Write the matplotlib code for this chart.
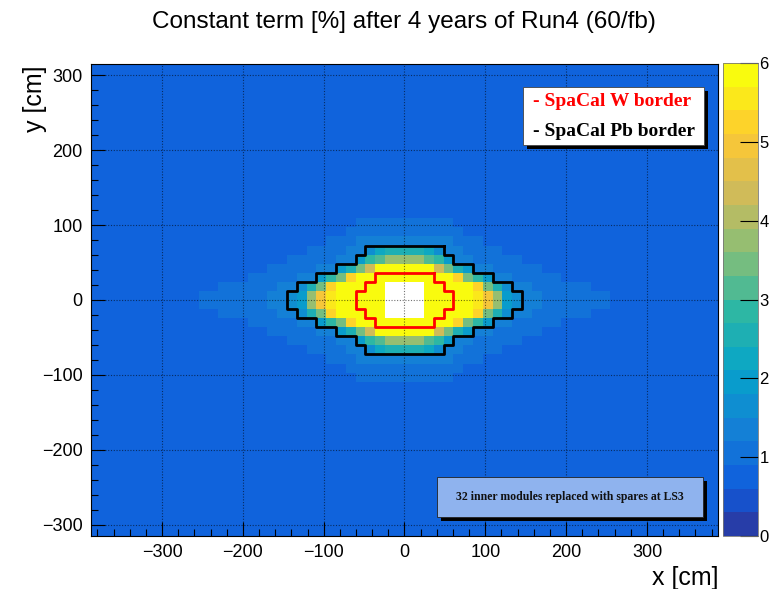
import numpy as np
import matplotlib
matplotlib.use("Agg")
import matplotlib.pyplot as plt
from matplotlib.colors import LinearSegmentedColormap, ListedColormap, BoundaryNorm
from matplotlib.patches import Rectangle

plt.rcParams['font.family'] = ['Liberation Sans', 'DejaVu Sans']

# ECAL module pitch [cm] and number of modules in x / y
module = 12.12
n_x, n_y = 64, 52
outer_value = 0.8

# constant term [%] for one quadrant (rows: y module index from the beam, cols: x module index)
nan = np.nan
quadrant = [
    [nan, nan, 5.9, 5.9, 5.9, 5.9, 5.9, 5.6, 5.0, 3.7, 2.0, 1.7, 1.4, 1.4, 1.1, 1.1, 1.1, 1.1, 1.1, 1.1, 1.1, 0.8],
    [nan, nan, 5.9, 5.9, 5.9, 5.9, 5.9, 5.2, 3.4, 2.5, 1.7, 1.4, 1.4, 1.1, 1.1, 1.1, 1.1, 1.1, 1.1, 0.8, 0.8, 0.8],
    [5.9, 5.9, 5.9, 5.9, 5.8, 5.2, 3.5, 2.8, 1.9, 1.4, 1.4, 1.1, 1.1, 1.1, 1.1, 1.1, 0.8, 0.8, 0.8, 0.8, 0.8, 0.8],
    [5.9, 5.9, 5.9, 4.3, 3.4, 2.5, 1.9, 1.4, 1.4, 1.1, 1.1, 1.1, 1.1, 1.1, 0.8, 0.8, 0.8, 0.8, 0.8, 0.8, 0.8, 0.8],
    [3.7, 3.7, 3.1, 2.8, 1.9, 1.4, 1.4, 1.1, 1.1, 1.1, 1.1, 1.1, 0.8, 0.8, 0.8, 0.8, 0.8, 0.8, 0.8, 0.8, 0.8, 0.8],
    [2.5, 2.5, 2.1, 1.7, 1.4, 1.4, 1.1, 1.1, 1.1, 1.1, 0.8, 0.8, 0.8, 0.8, 0.8, 0.8, 0.8, 0.8, 0.8, 0.8, 0.8, 0.8],
    [1.4, 1.4, 1.4, 1.4, 1.4, 1.1, 1.1, 1.1, 0.8, 0.8, 0.8, 0.8, 0.8, 0.8, 0.8, 0.8, 0.8, 0.8, 0.8, 0.8, 0.8, 0.8],
    [1.1, 1.1, 1.1, 1.1, 1.1, 1.1, 0.8, 0.8, 0.8, 0.8, 0.8, 0.8, 0.8, 0.8, 0.8, 0.8, 0.8, 0.8, 0.8, 0.8, 0.8, 0.8],
    [1.1, 1.1, 1.1, 1.1, 1.1, 0.8, 0.8, 0.8, 0.8, 0.8, 0.8, 0.8, 0.8, 0.8, 0.8, 0.8, 0.8, 0.8, 0.8, 0.8, 0.8, 0.8],
    [0.8, 0.8, 0.8, 0.8, 0.8, 0.8, 0.8, 0.8, 0.8, 0.8, 0.8, 0.8, 0.8, 0.8, 0.8, 0.8, 0.8, 0.8, 0.8, 0.8, 0.8, 0.8],
]

# half widths (in modules) of the SpaCal regions, one entry per module row from top to bottom
w_rows_top = 3
w_halfwidth = [3, 4, 5, 5, 4, 3]
pb_rows_top = 6
pb_halfwidth = [4, 5, 7, 9, 11, 12, 12, 11, 9, 7, 5, 4]

# full detector map, built from the quadrant by mirroring
q = np.array(quadrant)
ny_q, nx_q = q.shape
upper = np.hstack([q[:, ::-1], q])
half = np.full((n_y // 2, n_x), outer_value)
half[:ny_q, n_x // 2 - nx_q:n_x // 2 + nx_q] = upper
z = np.vstack([half[::-1], half])

x_edges = (np.arange(n_x + 1) - n_x / 2) * module
y_edges = (np.arange(n_y + 1) - n_y / 2) * module

# ROOT kBird palette, 20 contours between 0 and 6
stops = [0.0, 0.125, 0.25, 0.375, 0.5, 0.625, 0.75, 0.875, 1.0]
red = [0.2082, 0.0592, 0.0780, 0.0232, 0.1802, 0.5301, 0.8186, 0.9956, 0.9764]
green = [0.1664, 0.3599, 0.5041, 0.6419, 0.7178, 0.7492, 0.7328, 0.7862, 0.9832]
blue = [0.5293, 0.8684, 0.8385, 0.7914, 0.6425, 0.4662, 0.3499, 0.1968, 0.0539]
bird = LinearSegmentedColormap.from_list('bird', list(zip(stops, zip(red, green, blue))))
n_cont = 20
cmap = ListedColormap([bird((k + 0.99) / n_cont) for k in range(n_cont)])
cmap.set_bad('white')
norm = BoundaryNorm(np.linspace(0, 6, n_cont + 1), n_cont)

W, H = 769, 589
fig = plt.figure(figsize=(W / 100, H / 100), dpi=100)


def fig_box(x0, y0, x1, y1):
    # pixel box (from top-left) -> figure fraction [left, bottom, width, height]
    return [x0 / W, 1 - y1 / H, (x1 - x0) / W, (y1 - y0) / H]


ax = fig.add_axes(fig_box(91, 64, 718, 536))
cax = fig.add_axes(fig_box(723, 63, 758, 536))

mesh = ax.pcolormesh(x_edges, y_edges, z, cmap=cmap, norm=norm)
ax.set_xlim(x_edges[0], x_edges[-1])
ax.set_ylim(y_edges[0], y_edges[-1])


def region_outline(top_row, halfwidths):
    right, left = [], []
    for i, hw in enumerate(halfwidths):
        r = top_row - i
        right += [(hw, r), (hw, r - 1)]
        left += [(-hw, r), (-hw, r - 1)]
    pts = right + left[::-1] + [right[0]]
    pts = np.array(pts, dtype=float) * module
    return pts[:, 0], pts[:, 1]


px, py = region_outline(pb_rows_top, pb_halfwidth)
ax.plot(px, py, color='black', lw=2.0, zorder=4)
wx, wy = region_outline(w_rows_top, w_halfwidth)
ax.plot(wx, wy, color='red', lw=2.0, zorder=5)

ticks = [-300, -200, -100, 0, 100, 200, 300]
ax.set_xticks(ticks)
ax.set_yticks(ticks)
ax.set_xticks(np.arange(-380, 381, 20), minor=True)
ax.set_yticks(np.arange(-300, 301, 20), minor=True)
ax.tick_params(which='major', direction='in', length=10, width=0.8, labelsize=13, pad=6)
ax.tick_params(which='minor', direction='in', length=5, width=0.8)
ax.grid(True, which='major', color='black', alpha=0.55, lw=0.8, ls=(0, (1, 1.5)), zorder=3)
ax.set_axisbelow(False)
for s in ax.spines.values():
    s.set_linewidth(0.8)

fig.text(404 / W, 1 - 22 / H, 'Constant term [%] after 4 years of Run4 (60/fb)',
         ha='center', va='center', fontsize=17.5)
fig.text(719 / W, 1 - 578 / H, 'x [cm]', ha='right', va='center', fontsize=18)
fig.text(35 / W, 1 - 65 / H, 'y [cm]', ha='center', va='top', rotation=90, fontsize=18)

# colour scale
cb = fig.colorbar(mesh, cax=cax, ticks=range(0, 7))
cb.outline.set_linewidth(0.6)
cb.outline.set_edgecolor('#777777')
cax.tick_params(direction='in', length=13, width=0.8, labelsize=12, pad=1)
cax.minorticks_off()

# legend box for the two borders
fig.patches.append(Rectangle((527 / W, 1 - 149 / H), 181 / W, 58 / H, transform=fig.transFigure,
                             facecolor='black', edgecolor='none', zorder=6))
fig.patches.append(Rectangle((523 / W, 1 - 145 / H), 181 / W, 58 / H, transform=fig.transFigure,
                             facecolor='white', edgecolor='#444444', lw=0.6, zorder=7))
fig.text(533 / W, 1 - 101 / H, '- SpaCal W border', color='red', fontsize=14,
         family='Liberation Serif', weight='bold', ha='left', va='center', zorder=8)
fig.text(533 / W, 1 - 131 / H, '- SpaCal Pb border', color='black', fontsize=14,
         family='Liberation Serif', weight='bold', ha='left', va='center', zorder=8)

# note on replaced modules
fig.patches.append(Rectangle((441 / W, 1 - 521 / H), 266 / W, 40 / H, transform=fig.transFigure,
                             facecolor='black', edgecolor='none', zorder=6))
fig.patches.append(Rectangle((437 / W, 1 - 517 / H), 266 / W, 40 / H, transform=fig.transFigure,
                             facecolor='#8fb3ee', edgecolor='#222222', lw=0.6, zorder=7))
fig.text(570 / W, 1 - 497 / H, '32 inner modules replaced with spares at LS3', color='#111111',
         fontsize=8.5, family='Liberation Serif', weight='bold', ha='center', va='center', zorder=8)

fig.savefig('out.png', dpi=100)
